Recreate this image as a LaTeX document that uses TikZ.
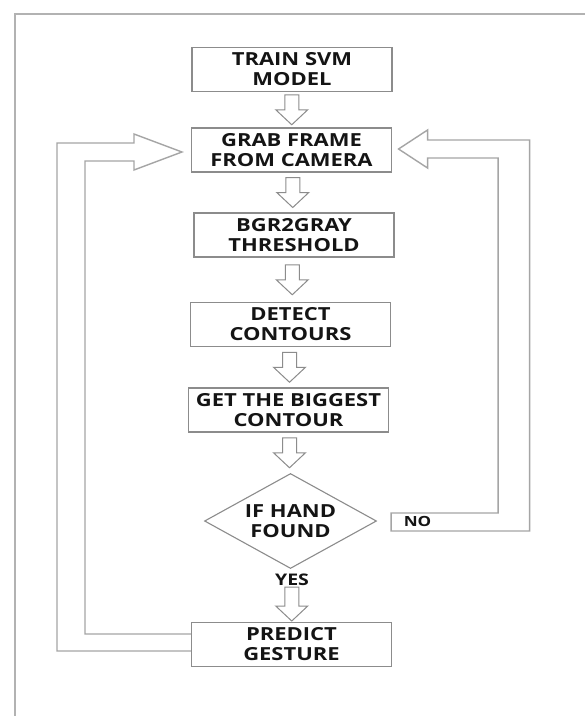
\documentclass[tikz,border=0pt]{standalone}
\usepackage{fontspec}
\newfontfamily\lbl{Open Sans}[FakeStretch=1.22]
\usetikzlibrary{calc,shapes.geometric}
\definecolor{boxgray}{RGB}{140,140,140}
\definecolor{framegray}{RGB}{178,178,178}
\definecolor{loopgray}{RGB}{165,165,165}
\definecolor{txt}{RGB}{20,20,20}
\begin{document}
\begin{tikzpicture}[x=1pt,y=-1pt,
  lblfont/.style={font=\lbl\bfseries\fontsize{18}{20}\selectfont, text=txt},
  stepbox/.style={draw=boxgray, line width=1.1pt, minimum width=200pt, minimum height=44pt,
    inner sep=0pt, align=center, lblfont},
  decision/.style={diamond, draw=boxgray, line width=1.1pt, minimum width=172pt, minimum height=95pt,
    inner sep=0pt, aspect=1.8, align=center, lblfont},
  smalllbl/.style={inner sep=0pt, font=\lbl\bfseries\fontsize{14}{16}\selectfont, text=txt},
  arrowline/.style={draw=boxgray, line width=1pt, line join=miter},
  loopline/.style={draw=loopgray, line width=1.4pt, line join=miter},
  frameline/.style={draw=framegray, line width=2pt},
  pics/downarr/.style={code={\draw[arrowline] (-7,-#1) -- (7,-#1) -- (7,#1-15) -- (16,#1-15) -- (0,#1) -- (-16,#1-15) -- (-7,#1-15) -- cycle;}},
  pics/downarr/.default=15]
\useasboundingbox (0,0) rectangle (585,716);
\fill[white] (0,0) rectangle (585,716);
% outer frame
\draw[frameline] (15,716) -- (15,14) -- (585,14);

% nodes
\node[stepbox] (train)   at (292,69.5)  {TRAIN SVM\\MODEL};
\node[stepbox] (grab)    at (291.5,150) {GRAB FRAME\\FROM CAMERA};
\node[stepbox] (gray)    at (294,235)   {BGR2GRAY\\THRESHOLD};
\node[stepbox] (detect)  at (290.5,324.5) {DETECT\\CONTOURS};
\node[stepbox] (biggest) at (288.5,410) {GET THE BIGGEST\\CONTOUR};
\node[decision] (hand)   at (290.5,521) {IF HAND\\FOUND};
\node[smalllbl, font=\lbl\bfseries\fontsize{16}{18}\selectfont] (yes) at (292,580) {YES};
\node[stepbox] (predict) at (291.5,644.5) {PREDICT\\GESTURE};
\node[smalllbl] (no) at (417.5,521.5) {NO};

% down block arrows
\pic at ($(train.south)!0.5!(grab.north)$) {downarr};
\pic at ($(grab.south)!0.5!(gray.north)$) {downarr};
\pic at ($(gray.south)!0.5!(detect.north)$) {downarr};
\pic at ($(detect.south)!0.5!(biggest.north)$) {downarr};
\pic at ($(biggest.south)!0.5!(hand.north)$) {downarr};
\pic at ($(yes.south)!0.5!(predict.north)$) {downarr=17};

% left loop (predict -> grab)
\coordinate (ltip) at ($(grab.west)+(-9,2)$);
\draw[loopline] ($(predict.west)+(0,6.5)$) -- ++(-134,0) |- ($(ltip)+(-48,-9)$)
  -- ++(0,-9) -- (ltip) -- ++(-48,18) -- ++(0,-9)
  -| ($(predict.west)+(-106,-10.5)$) -- ($(predict.west)+(0,-10.5)$);

% right loop (no -> grab)
\coordinate (rtip) at ($(grab.east)+(6.5,-1)$);
\coordinate (nostart) at ($(hand.east)+(14,10)$);
\draw[loopline] (nostart) -- ++(0,-18) -- ++(107,0) |- ($(rtip)+(29,9)$)
  -- ++(0,10) -- (rtip) -- ++(29,-19) -- ++(0,10) -- ++(102,0) |- (nostart) -- cycle;
\end{tikzpicture}
\end{document}
